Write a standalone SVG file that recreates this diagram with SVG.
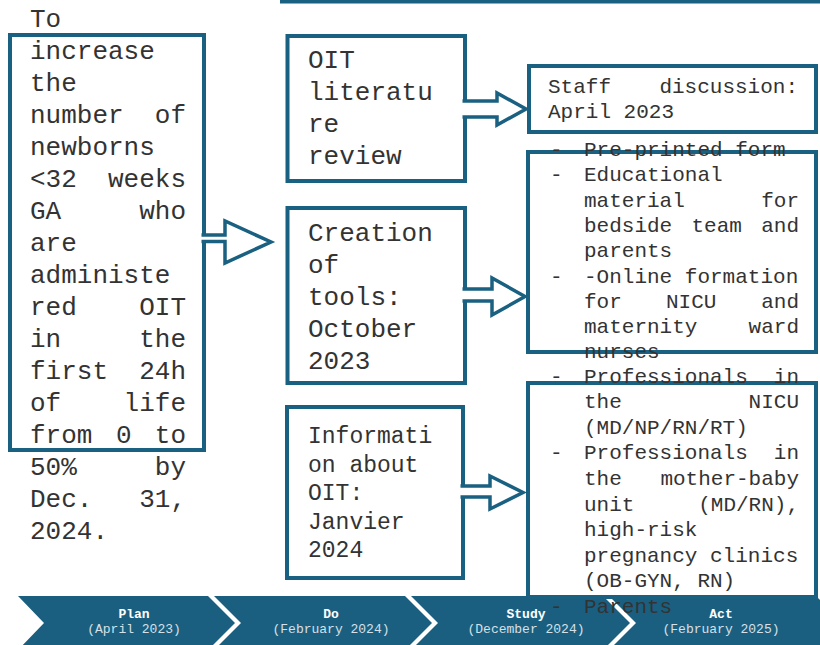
<svg xmlns="http://www.w3.org/2000/svg" width="820" height="645" viewBox="0 0 820 645">
<style>
.box{fill:#fff;stroke:#1a6080;stroke-width:4}
.t26{font-family:"Liberation Mono","Courier New",monospace;font-size:26px;fill:#333}
.t23{font-family:"Liberation Mono","Courier New",monospace;font-size:23px;fill:#333}
.t21{font-family:"Liberation Mono","Courier New",monospace;font-size:21px;fill:#333}
.e{text-anchor:end}
.chev{fill:#1a5f80}
.ph{font-family:"Liberation Mono","Courier New",monospace;font-size:13px;font-weight:bold;fill:#fff;text-anchor:middle}
.pd{font-family:"Liberation Mono","Courier New",monospace;font-size:13px;fill:#d6e0e8;text-anchor:middle}
.arr{fill:#fff;stroke:#1a6080;stroke-width:3.5;stroke-linejoin:miter}
</style>
<rect x="280" y="0" width="540" height="3.5" fill="#1a6080"/>

<g id="phases">
  <g id="phase-plan">
    <polygon class="chev" points="18,596 208,596 235,623 208,650 18,650 44,623"/>
    <text class="ph" x="134" y="618">Plan</text>
    <text class="pd" x="134" y="633">(April 2023)</text>
  </g>
  <g id="phase-do">
    <polygon class="chev" points="214,596 405,596 432,623 405,650 214,650 241,623"/>
    <text class="ph" x="331" y="618">Do</text>
    <text class="pd" x="331" y="633">(February 2024)</text>
  </g>
  <g id="phase-study">
    <polygon class="chev" points="411,596 603,596 630,623 603,650 411,650 438,623"/>
    <text class="ph" x="526" y="618">Study</text>
    <text class="pd" x="526" y="633">(December 2024)</text>
  </g>
  <g id="phase-act">
    <polygon class="chev" points="609,596 816,596 843,623 816,650 609,650 636,623"/>
    <text class="ph" x="721" y="618">Act</text>
    <text class="pd" x="721" y="633">(February 2025)</text>
  </g>
</g>

<g id="goal">
  <rect class="box" x="10" y="35" width="194" height="415"/>
  <text class="t26" x="30" y="27">To</text>
  <text class="t26" x="30" y="59">increase</text>
  <text class="t26" x="30" y="91">the</text>
  <text class="t26" x="30" y="123">number</text><text class="t26 e" x="186" y="123">of</text>
  <text class="t26" x="30" y="155">newborns</text>
  <text class="t26" x="30" y="187">&lt;32</text><text class="t26 e" x="186" y="187">weeks</text>
  <text class="t26" x="30" y="219">GA</text><text class="t26 e" x="186" y="219">who</text>
  <text class="t26" x="30" y="251">are</text>
  <text class="t26" x="30" y="283">administe</text>
  <text class="t26" x="30" y="315">red</text><text class="t26 e" x="186" y="315">OIT</text>
  <text class="t26" x="30" y="347">in</text><text class="t26 e" x="186" y="347">the</text>
  <text class="t26" x="30" y="379">first</text><text class="t26 e" x="186" y="379">24h</text>
  <text class="t26" x="30" y="411">of</text><text class="t26 e" x="186" y="411">life</text>
  <text class="t26" x="30" y="443">from</text><text class="t26" x="116" y="443">0</text><text class="t26 e" x="186" y="443">to</text>
  <text class="t26" x="30" y="475">50%</text><text class="t26 e" x="186" y="475">by</text>
  <text class="t26" x="30" y="507">Dec.</text><text class="t26 e" x="186" y="507">31,</text>
  <text class="t26" x="30" y="539">2024.</text>
</g>

<g id="lit-review">
  <rect class="box" x="287.5" y="36" width="177.5" height="145"/>
  <text class="t26" x="308" y="68">OIT</text>
  <text class="t26" x="308" y="100">literatu</text>
  <text class="t26" x="308" y="132">re</text>
  <text class="t26" x="308" y="164">review</text>
</g>

<g id="tools">
  <rect class="box" x="287.5" y="208" width="177.5" height="175"/>
  <text class="t26" x="308" y="241">Creation</text>
  <text class="t26" x="308" y="273">of</text>
  <text class="t26" x="308" y="305">tools:</text>
  <text class="t26" x="308" y="337">October</text>
  <text class="t26" x="308" y="369">2023</text>
</g>

<g id="info">
  <rect class="box" x="287" y="407" width="176" height="171"/>
  <text class="t23" x="308" y="443">Informati</text>
  <text class="t23" x="308" y="471.5">on about</text>
  <text class="t23" x="308" y="500">OIT:</text>
  <text class="t23" x="308" y="528.5">Janvier</text>
  <text class="t23" x="308" y="557">2024</text>
</g>

<g id="staff">
  <rect class="box" x="529" y="66" width="287" height="66"/>
  <text class="t21" x="548" y="93">Staff</text><text class="t21 e" x="798" y="93">discussion:</text>
  <text class="t21" x="548" y="118">April 2023</text>
</g>

<g id="tools-list">
  <rect class="box" x="528" y="152" width="288" height="200"/>
  <text class="t21" x="550" y="156">-</text><text class="t21" x="584" y="156">Pre-printed form</text>
  <text class="t21" x="550" y="181.3">-</text><text class="t21" x="584" y="181.3">Educational</text>
  <text class="t21" x="584" y="206.6">material</text><text class="t21 e" x="799" y="206.6">for</text>
  <text class="t21" x="584" y="231.9">bedside</text><text class="t21" x="691.5" y="231.9">team</text><text class="t21 e" x="799" y="231.9">and</text>
  <text class="t21" x="584" y="257.2">parents</text>
  <text class="t21" x="550" y="282.5">-</text><text class="t21" x="584" y="282.5">-Online formation</text>
  <text class="t21" x="584" y="307.8">for</text><text class="t21" x="666" y="307.8">NICU</text><text class="t21 e" x="799" y="307.8">and</text>
  <text class="t21" x="584" y="333.1">maternity</text><text class="t21 e" x="799" y="333.1">ward</text>
  <text class="t21" x="584" y="358.4">nurses</text>
</g>

<g id="audience">
  <rect class="box" x="528" y="383" width="288" height="214"/>
  <text class="t21" x="550" y="382.5">-</text><text class="t21" x="584" y="382.5">Professionals</text><text class="t21 e" x="799" y="382.5">in</text>
  <text class="t21" x="584" y="408.1">the</text><text class="t21 e" x="799" y="408.1">NICU</text>
  <text class="t21" x="584" y="433.7">(MD/NP/RN/RT)</text>
  <text class="t21" x="550" y="459.3">-</text><text class="t21" x="584" y="459.3">Professionals</text><text class="t21 e" x="799" y="459.3">in</text>
  <text class="t21" x="584" y="484.9">the</text><text class="t21 e" x="799" y="484.9">mother-baby</text>
  <text class="t21" x="584" y="510.5">unit</text><text class="t21 e" x="799" y="510.5">(MD/RN),</text>
  <text class="t21" x="584" y="536.1">high-risk</text>
  <text class="t21" x="584" y="561.7">pregnancy clinics</text>
  <text class="t21" x="584" y="587.3">(OB-GYN, RN)</text>
  <text class="t21" x="550" y="612.9">-</text><text class="t21" x="584" y="612.9">Parents</text>
</g>

<g id="connectors">
  <path class="arr" d="M201.5,235 L225,235 L225,221 L271,242 L225,263 L225,241.5 L201.5,241.5"/>
  <path class="arr" d="M462.5,101 L497,101 L497,93 L526,109 L497,125 L497,117 L462.5,117"/>
  <path class="arr" d="M462.5,289 L492,289 L492,278 L525,296.5 L492,315 L492,301 L462.5,301"/>
  <path class="arr" d="M460.5,486 L490,486 L490,476 L523,492.5 L490,509 L490,497 L460.5,497"/>
</g>
</svg>
